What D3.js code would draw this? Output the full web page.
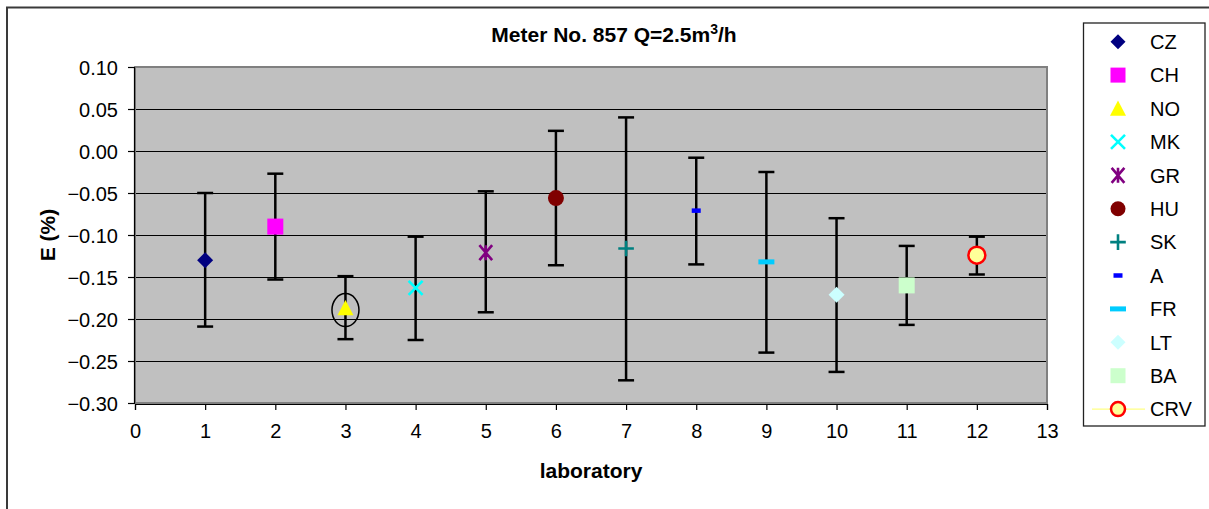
<!DOCTYPE html>
<html>
<head>
<meta charset="utf-8">
<script src="https://cdn.jsdelivr.net/npm/d3@7"></script>
<style>
  html, body { margin: 0; padding: 0; background: #fff; }
  svg { display: block; font-family: "Liberation Sans", Arial, sans-serif; }
</style>
</head>
<body>
<svg id="chart" width="1209" height="509"></svg>
<script>
// Laboratory comparison results, meter No. 857 at Q = 2.5 m3/h
const labs      = ["CZ", "CH", "NO", "MK", "GR", "HU", "SK", "A", "FR", "LT", "BA", "CRV"];
const labIndex  = [1, 2, 3, 4, 5, 6, 7, 8, 9, 10, 11, 12];
const errValue  = [-0.130, -0.090, -0.187, -0.163, -0.121, -0.056, -0.116, -0.071, -0.132, -0.171, -0.160, -0.124];
const errUpper  = [-0.050, -0.027, -0.149, -0.102, -0.048, 0.024, 0.040, -0.008, -0.025, -0.080, -0.113, -0.102];
const errLower  = [-0.209, -0.153, -0.224, -0.225, -0.192, -0.136, -0.273, -0.135, -0.240, -0.263, -0.207, -0.147];
const yTicks    = [0.10, 0.05, 0.00, -0.05, -0.10, -0.15, -0.20, -0.25, -0.30];
const xTicks    = [0, 1, 2, 3, 4, 5, 6, 7, 8, 9, 10, 11, 12, 13];
const circledLab = 3;

const svg = d3.select("#chart");

// outer chart frame
svg.append("rect")
  .attr("x", 7).attr("y", 7.5).attr("width", 1260).attr("height", 600)
  .attr("fill", "#fff").attr("stroke", "#3a3a3a").attr("stroke-width", 2);

const plot = { left: 135, right: 1047, top: 67, bottom: 403 };
const x = d3.scaleLinear().domain([0, 13]).range([plot.left, plot.right]);
const y = d3.scaleLinear().domain([-0.30, 0.10]).range([plot.bottom, plot.top]);

// plot area
svg.append("rect")
  .attr("x", plot.left).attr("y", plot.top)
  .attr("width", plot.right - plot.left).attr("height", plot.bottom - plot.top)
  .attr("fill", "#c0c0c0");

// horizontal gridlines
svg.append("g").selectAll("line")
  .data(yTicks.filter(t => t > -0.30 && t < 0.10))
  .join("line")
  .attr("x1", plot.left).attr("x2", plot.right)
  .attr("y1", d => Math.round(y(d)) + 0.5).attr("y2", d => Math.round(y(d)) + 0.5)
  .attr("stroke", "#000").attr("stroke-width", 1);

svg.append("rect")
  .attr("x", plot.left).attr("y", plot.top)
  .attr("width", plot.right - plot.left).attr("height", plot.bottom - plot.top)
  .attr("fill", "none").attr("stroke", "#808080").attr("stroke-width", 2);

// axes
const yAxis = d3.axisLeft(y).tickValues(yTicks).tickFormat(d3.format(".2f")).tickSize(6).tickPadding(10);
const gy = svg.append("g").attr("transform", `translate(${plot.left - 1},0)`).call(yAxis);
const xAxis = d3.axisBottom(x).tickValues(xTicks).tickFormat(d3.format("d")).tickSize(6).tickPadding(14);
const gx = svg.append("g").attr("transform", `translate(0,${plot.bottom + 1})`).call(xAxis);
[gx, gy].forEach(g => {
  g.select(".domain").attr("stroke", "#000").attr("stroke-width", 1.2);
  g.selectAll(".tick line").attr("stroke", "#000").attr("stroke-width", 1.2);
  g.selectAll(".tick text").attr("fill", "#000").style("font-size", "20px")
    .style("font-family", "'Liberation Sans', Arial, sans-serif");
});
gy.selectAll(".tick text").attr("dy", "0.36em");

// titles
svg.append("text")
  .attr("x", 614).attr("y", 42).attr("text-anchor", "middle")
  .style("font-size", "21px").style("font-weight", "bold")
  .text("Meter No. 857 Q=2.5m")
  .append("tspan").attr("dy", -8).style("font-size", "14px").text("3")
  .select(function () { return this.parentNode; })
  .append("tspan").attr("dy", 8).style("font-size", "21px").text("/h");

svg.append("text")
  .attr("x", 591).attr("y", 478).attr("text-anchor", "middle")
  .style("font-size", "21px").style("font-weight", "bold")
  .text("laboratory");

svg.append("text")
  .attr("transform", `translate(55,235) rotate(-90)`).attr("text-anchor", "middle")
  .style("font-size", "21px").style("font-weight", "bold")
  .text("E (%)");

// marker styles per laboratory
const markerStyle = {
  CZ:  { shape: "diamond",  fill: "#000080", size: 8 },
  CH:  { shape: "square",   fill: "#ff00ff", size: 8 },
  NO:  { shape: "triangle", fill: "#ffff00", size: 8 },
  MK:  { shape: "x",        stroke: "#00ffff", size: 7 },
  GR:  { shape: "star",     stroke: "#800080", size: 7.5 },
  HU:  { shape: "circle",   fill: "#800000", size: 8 },
  SK:  { shape: "plus",     stroke: "#008080", size: 7.8 },
  A:   { shape: "dash",     fill: "#0000ff", w: 9, h: 4.5 },
  FR:  { shape: "dash",     fill: "#00ccff", w: 16, h: 5 },
  LT:  { shape: "diamond",  fill: "#ccffff", size: 8 },
  BA:  { shape: "square",   fill: "#ccffcc", size: 8 },
  CRV: { shape: "ring",     fill: "#ffff99", stroke: "#ff0000", size: 8.5 }
};

function drawMarker(g, s) {
  const r = s.size;
  switch (s.shape) {
    case "diamond":
      g.append("path").attr("d", `M0,${-r}L${r},0L0,${r}L${-r},0Z`).attr("fill", s.fill); break;
    case "square":
      g.append("rect").attr("x", -r).attr("y", -r).attr("width", 2 * r).attr("height", 2 * r).attr("fill", s.fill); break;
    case "triangle":
      g.append("path").attr("d", `M0,${-r}L${r},${r * 0.9}L${-r},${r * 0.9}Z`).attr("fill", s.fill); break;
    case "x":
      g.append("path").attr("d", `M${-r},${-r}L${r},${r}M${-r},${r}L${r},${-r}`)
        .attr("stroke", s.stroke).attr("stroke-width", 2.6).attr("fill", "none"); break;
    case "star":
      g.append("path").attr("d", `M${-r * 0.85},${-r}L${r * 0.85},${r}M${-r * 0.85},${r}L${r * 0.85},${-r}M0,${-r}L0,${r}`)
        .attr("stroke", s.stroke).attr("stroke-width", 2.6).attr("fill", "none"); break;
    case "circle":
      g.append("circle").attr("r", r).attr("fill", s.fill); break;
    case "plus":
      g.append("path").attr("d", `M${-r},0L${r},0M0,${-r}L0,${r}`)
        .attr("stroke", s.stroke).attr("stroke-width", 2.6).attr("fill", "none"); break;
    case "dash":
      g.append("rect").attr("x", -s.w / 2).attr("y", -s.h / 2).attr("width", s.w).attr("height", s.h).attr("fill", s.fill); break;
    case "ring":
      g.append("circle").attr("r", r).attr("fill", s.fill).attr("stroke", s.stroke).attr("stroke-width", 2.5); break;
  }
}

const data = labs.map((name, i) => ({
  name, lab: labIndex[i], value: errValue[i], hi: errUpper[i], lo: errLower[i]
}));

// error bars
const capHalf = 8;
const bars = svg.append("g").selectAll("g").data(data).join("g");
bars.append("line")
  .attr("x1", d => x(d.lab)).attr("x2", d => x(d.lab))
  .attr("y1", d => y(d.hi)).attr("y2", d => y(d.lo))
  .attr("stroke", "#000").attr("stroke-width", 2.5);
bars.append("line")
  .attr("x1", d => x(d.lab) - capHalf).attr("x2", d => x(d.lab) + capHalf)
  .attr("y1", d => y(d.hi)).attr("y2", d => y(d.hi))
  .attr("stroke", "#000").attr("stroke-width", 2.5);
bars.append("line")
  .attr("x1", d => x(d.lab) - capHalf).attr("x2", d => x(d.lab) + capHalf)
  .attr("y1", d => y(d.lo)).attr("y2", d => y(d.lo))
  .attr("stroke", "#000").attr("stroke-width", 2.5);

// markers
svg.append("g").selectAll("g").data(data).join("g")
  .attr("transform", d => `translate(${x(d.lab)},${y(d.value)})`)
  .each(function (d) { drawMarker(d3.select(this), markerStyle[d.name]); });

// highlight ring around the flagged result
const flagged = data.find(d => d.lab === circledLab);
svg.append("ellipse")
  .attr("cx", x(flagged.lab)).attr("cy", y(flagged.value) + 2)
  .attr("rx", 13.5).attr("ry", 16.5)
  .attr("fill", "none").attr("stroke", "#000").attr("stroke-width", 1.5);

// legend
const legend = svg.append("g");
legend.append("rect")
  .attr("x", 1083.5).attr("y", 23).attr("width", 121.5).attr("height", 403)
  .attr("fill", "#fff").attr("stroke", "#222").attr("stroke-width", 1.3);
const rowY = i => 41.7 + i * 33.4;
labs.forEach((name, i) => {
  const row = legend.append("g").attr("transform", `translate(1118,${rowY(i)})`);
  if (name === "CRV") {
    row.append("line").attr("x1", -26).attr("x2", 27).attr("y1", 0).attr("y2", 0)
      .attr("stroke", "#ffff66").attr("stroke-width", 1);
  }
  const s = Object.assign({}, markerStyle[name]);
  if (s.shape === "ring") s.size = 7;
  if (s.shape === "diamond") s.size = 7.5;
  if (s.shape === "square") s.size = 7.5;
  if (s.shape === "circle") s.size = 7.5;
  drawMarker(row, s);
  legend.append("text")
    .attr("x", 1150).attr("y", rowY(i)).attr("dy", "0.36em")
    .style("font-size", "20px").text(name);
});
</script>
</body>
</html>
